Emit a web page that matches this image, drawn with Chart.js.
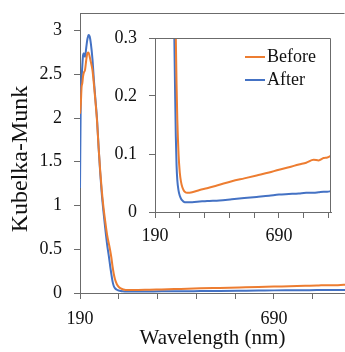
<!DOCTYPE html>
<html lang="en">
<head>
<meta charset="UTF-8">
<title>Kubelka-Munk</title>
<script src="https://cdn.jsdelivr.net/npm/chart.js@4.4.0/dist/chart.umd.min.js"></script>
<style>
	html, body { margin: 0; padding: 0; background: #fff; overflow: hidden; }
	body { font-family: 'Liberation Serif', 'Times New Roman', 'DejaVu Serif', serif; }
	#wrap { position: relative; width: 345px; height: 352px; }
	#main { position: absolute; left: 0; top: 0; }
	#inset { position: absolute; left: 95px; top: 20px; }
</style>
</head>
<body>
<div id="wrap">
	<canvas id="main" width="345" height="352"></canvas>
	<canvas id="inset" width="250" height="230"></canvas>
</div>
<script>
// wavelength (nm)
var wavelengths = [190,192,194,196,198,200,203,206,209,212,215,218,222,226,230,234,238,242,246,250,255,260,265,268,271,274,277,280,285,290,295,300,305,310,320,340,370,400,450,500,550,600,650,690,730,770,800,830,850,870,885,900];

var beforeVals = [2.05,2.15,2.35,2.4,2.48,2.52,2.55,2.66,2.74,2.75,2.7,2.64,2.55,2.38,2.18,1.96,1.66,1.4,1.18,1.0,0.82,0.66,0.55,0.48,0.4,0.3,0.22,0.16,0.1,0.068,0.052,0.043,0.038,0.035,0.033,0.034,0.038,0.041,0.047,0.053,0.058,0.063,0.068,0.073,0.077,0.082,0.085,0.09,0.089,0.093,0.094,0.097];

var afterVals = [1.2,2.25,2.45,2.6,2.72,2.74,2.7,2.8,2.9,2.95,2.93,2.85,2.68,2.42,2.2,1.98,1.66,1.38,1.14,0.95,0.74,0.55,0.4,0.3,0.21,0.13,0.08,0.055,0.037,0.028,0.023,0.02,0.018,0.017,0.017,0.017,0.018,0.019,0.02,0.022,0.024,0.026,0.028,0.03,0.031,0.032,0.033,0.033,0.034,0.035,0.035,0.036];

var seriesNames = ['Before', 'After'];

var xTicks = [190,290,390,490,590,690,790,890];
var xLabels = [190, 690];
var yTicksMain = [0,0.5,1,1.5,2,2.5,3];
var yTicksInset = [0,0.1,0.2,0.3];

var orange = '#ED7D31';
var blue = '#4472C4';
var axisColor = '#6b6b6b';
var fontFam = "'Liberation Serif', 'Times New Roman', 'DejaVu Serif', serif";

Chart.defaults.font.family = fontFam;
Chart.defaults.font.size = 18;
Chart.defaults.color = '#111';

function pts(vals) {
	return wavelengths.map(function (w, i) { return {x: w, y: vals[i]}; });
}

function makeSets() {
	return [
		{label: seriesNames[0], data: pts(beforeVals), borderColor: orange, borderWidth: 2, pointRadius: 0, cubicInterpolationMode: 'monotone'},
		{label: seriesNames[1], data: pts(afterVals), borderColor: blue, borderWidth: 2, pointRadius: 0, cubicInterpolationMode: 'monotone'}
	];
}

// top line (and right line for the inset)
function framePlugin(withRight) {
	return {
		id: 'frame',
		afterDraw: function (chart) {
			var ctx = chart.ctx, a = chart.chartArea;
			ctx.save();
			ctx.strokeStyle = axisColor;
			ctx.lineWidth = 1;
			ctx.beginPath();
			ctx.moveTo(a.left, a.top + 0.5);
			ctx.lineTo(a.right - 0.5, a.top + 0.5);
			if (withRight) ctx.lineTo(a.right - 0.5, a.bottom);
			ctx.stroke();
			ctx.restore();
		}
	};
}

var insetLegend = {
	id: 'insetLegend',
	afterDraw: function (chart) {
		var ctx = chart.ctx, a = chart.chartArea;
		ctx.save();
		ctx.font = '18px ' + fontFam;
		ctx.textBaseline = 'middle';
		ctx.textAlign = 'left';
		chart.data.datasets.forEach(function (ds, i) {
			var y = a.top + 19 + i * 23;
			ctx.strokeStyle = ds.borderColor;
			ctx.lineWidth = 2;
			ctx.beginPath();
			ctx.moveTo(a.right - 86, y);
			ctx.lineTo(a.right - 66, y);
			ctx.stroke();
			ctx.fillStyle = '#111';
			ctx.fillText(ds.label, a.right - 64, y);
		});
		ctx.restore();
	}
};

function xScale(max, h, pad, title) {
	var s = {
		type: 'linear', min: 190, max: max,
		afterBuildTicks: function (sc) { sc.ticks = xTicks.map(function (v) { return {value: v}; }); },
		afterFit: function (sc) { sc.height = h; sc.paddingLeft = 0; sc.paddingRight = 0; },
		ticks: {padding: pad, maxRotation: 0, autoSkip: false,
			callback: function (v) { return xLabels.indexOf(v) >= 0 ? String(v) : ''; }},
		grid: {drawOnChartArea: false, tickLength: 6, color: axisColor},
		border: {color: axisColor}
	};
	if (title) s.title = {display: true, text: title, font: {size: 21}, padding: {top: 0, bottom: 1}};
	return s;
}

function yScale(max, ticks, w, title) {
	var s = {
		min: 0, max: max,
		afterBuildTicks: function (sc) { sc.ticks = ticks.map(function (v) { return {value: v}; }); },
		afterFit: function (sc) { sc.width = w; sc.paddingTop = 0; sc.paddingBottom = 0; },
		ticks: {padding: 12, autoSkip: false, callback: function (v) { return String(v); }},
		grid: {drawOnChartArea: false, tickLength: 6, color: axisColor},
		border: {color: axisColor}
	};
	// trailing spaces push the rotated title a bit lower, as in the original
	if (title) s.title = {display: true, text: title + '  ', font: {size: 24}, padding: {top: 6, bottom: 0}};
	return s;
}

function draw() {
	new Chart(document.getElementById('main'), {
		type: 'line',
		data: {datasets: makeSets()},
		options: {
			responsive: false,
			animation: false,
			layout: {padding: {top: 13, right: 0, bottom: 0, left: 0}},
			plugins: {legend: {display: false}, tooltip: {enabled: false}},
			scales: {
				x: xScale(873, 59, 9, 'Wavelength (nm)'),
				y: yScale(3.2, yTicksMain, 80, 'Kubelka-Munk')
			}
		},
		plugins: [framePlugin(false)]
	});

	new Chart(document.getElementById('inset'), {
		type: 'line',
		data: {datasets: makeSets()},
		options: {
			responsive: false,
			animation: false,
			layout: {padding: {top: 18, right: 14, bottom: 0, left: 0}},
			plugins: {legend: {display: false}, tooltip: {enabled: false}},
			scales: {
				x: xScale(900, 38, 7, null),
				y: yScale(0.3, yTicksInset, 60, null)
			}
		},
		plugins: [framePlugin(true), insetLegend]
	});
}

if (document.fonts && document.fonts.load) {
	document.fonts.load('18px ' + fontFam).then(draw, draw);
} else {
	draw();
}
</script>
</body>
</html>
